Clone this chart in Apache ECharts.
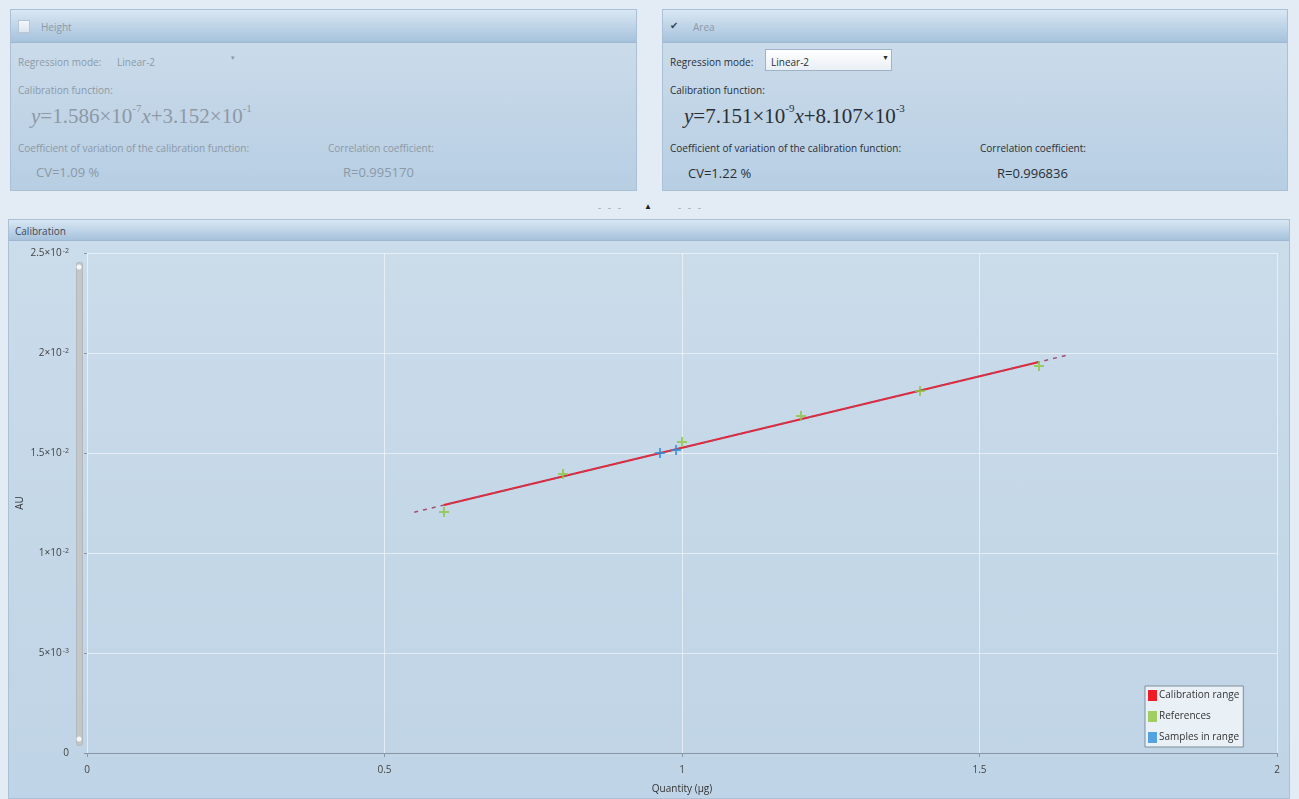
<!DOCTYPE html>
<html>
<head>
<meta charset="utf-8">
<script src="https://cdn.jsdelivr.net/npm/echarts@6/dist/echarts.min.js"></script>
<style>
  body { margin: 0; width: 1299px; height: 799px; background: #e3ecf4; font-family: 'Open Sans', 'Noto Sans', sans-serif; position: relative; overflow: hidden; }
  .panel { position: absolute; border: 1px solid #a9c0d5; background: linear-gradient(#cfdeec, #b7cee3); box-sizing: border-box; }
  .head { height: 32px; background: linear-gradient(#d9e7f3, #a6c2dc); border-bottom: 1px solid #9db8d0; position: relative; font-size: 10px; }
  .head span { position: absolute; top: 10px; }
  .t { position: absolute; font-size: 10px; white-space: nowrap; }
  .f { position: absolute; font-family: 'Liberation Serif', 'DejaVu Serif', serif; font-size: 21px; white-space: nowrap; }
  .f i { font-style: italic; }
  .f sup { font-size: 11px; position: relative; top: -3px; }
  .big { position: absolute; font-size: 13px; white-space: nowrap; }
  .dis { color: #8c99a6; }
  .en { color: #2a2f35; }
  .box { position: absolute; width: 10px; height: 11px; border: 1px solid #b8c6d3; background: linear-gradient(#f4f7fa, #dde6ee); top: 10px; }
  #chart { position: absolute; left: 8px; top: 240px; width: 1282px; height: 559px; }
</style>
</head>
<body>
<div class="panel" style="left:10px;top:9px;width:627px;height:182px;">
  <div class="head"><div class="box" style="left:7px;"></div><span class="dis" style="left:30px;">Height</span></div>
  <div class="t dis" style="left:7px;top:45px;">Regression mode:</div>
  <div class="t dis" style="left:106px;top:45px;">Linear-2</div>
  <div class="t dis" style="left:220px;top:43px;font-size:7px;">&#9662;</div>
  <div class="t dis" style="left:7px;top:73px;">Calibration function:</div>
  <div class="f dis" style="left:20px;top:94px;"><i>y</i>=1.586×10<sup>-7</sup><i>x</i>+3.152×10<sup>-1</sup></div>
  <div class="t dis" style="left:7px;top:131px;">Coefficient of variation of the calibration function:</div>
  <div class="t dis" style="left:317px;top:131px;">Correlation coefficient:</div>
  <div class="big dis" style="left:25px;top:153px;">CV=1.09 %</div>
  <div class="big dis" style="left:332px;top:153px;">R=0.995170</div>
</div>
<div class="panel" style="left:662px;top:9px;width:626px;height:182px;">
  <div class="head"><div class="box" style="left:7px;border:none;background:none;font-size:10px;top:8px;color:#3a4550;">&#10004;</div><span class="dis" style="left:30px;">Area</span></div>
  <div class="t en" style="left:7px;top:45px;">Regression mode:</div>
  <div style="position:absolute;left:102px;top:39px;width:127px;height:22px;border:1px solid #9fb3c6;background:linear-gradient(#ffffff,#e9eff5);box-sizing:border-box;"></div>
  <div class="t en" style="left:108px;top:45px;">Linear-2</div>
  <div class="t en" style="left:219px;top:43px;font-size:7px;">&#9660;</div>
  <div class="t en" style="left:7px;top:73px;">Calibration function:</div>
  <div class="f en" style="left:21px;top:94px;"><i>y</i>=7.151×10<sup>-9</sup><i>x</i>+8.107×10<sup>-3</sup></div>
  <div class="t en" style="left:7px;top:131px;">Coefficient of variation of the calibration function:</div>
  <div class="t en" style="left:317px;top:131px;">Correlation coefficient:</div>
  <div class="big en" style="left:25px;top:154px;">CV=1.22 %</div>
  <div class="big en" style="left:334px;top:154px;">R=0.996836</div>
</div>
<div class="t" style="left:598px;top:200px;color:#9aa8b5;letter-spacing:2px;">- - -</div>
<div class="t" style="left:644px;top:200px;color:#222;font-size:8px;">&#9650;</div>
<div class="t" style="left:678px;top:200px;color:#9aa8b5;letter-spacing:2px;">- - -</div>
<div class="panel" style="left:8px;top:219px;width:1282px;height:580px;background:linear-gradient(#cbdcea,#bfd4e6);">
  <div class="head" style="height:20px;"><span class="en" style="left:6px;top:4px;color:#3c4a58;">Calibration</span></div>
</div>
<div id="chart"></div>
<script>
// x: quantity (µg), y: AU
const refX = [0.6, 0.8, 1.0, 1.2, 1.4, 1.6];
const refY = [0.01205, 0.01395, 0.01555, 0.01685, 0.0181, 0.01935];
const sampleX = [0.963, 0.99];
const sampleY = [0.0150, 0.01515];
const rangeX = [0.6, 1.6];
const rangeY = [0.0124, 0.01955];
const fitX = [0.55, 1.65];
const fitY = [0.01204, 0.01991];
const yTickMant = ['0', '5', '1', '1.5', '2', '2.5'];
const yTickExp = ['', '-3', '-2', '-2', '-2', '-2'];
const xTicks = ['0', '0.5', '1', '1.5', '2'];

const plus = 'path://M4,0 L6,0 L6,4 L10,4 L10,6 L6,6 L6,10 L4,10 L4,6 L0,6 L0,4 L4,4 Z';
const zip = (xs, ys) => xs.map((x, i) => [x, ys[i]]);

const chart = echarts.init(document.getElementById('chart'));
chart.setOption({
  backgroundColor: 'transparent',
  animation: false,
  textStyle: { fontFamily: 'Open Sans' },
  grid: { left: 79, top: 13, width: 1190, height: 500, containLabel: false, outerBoundsMode: 'none' },
  legend: {
    orient: 'vertical',
    left: 1137, top: 446,
    data: ['Calibration range', 'References', 'Samples in range'],
    icon: 'rect', itemWidth: 9, itemHeight: 11, itemGap: 10,
    padding: [4, 4, 4, 3],
    backgroundColor: '#e9f0f6', borderColor: '#7f8e9c', borderWidth: 1,
    textStyle: { fontSize: 10, color: '#333', padding: [0, 0, 0, -3] }
  },
  xAxis: {
    type: 'value', min: 0, max: 2, interval: 0.5,
    name: 'Quantity (µg)', nameLocation: 'middle', nameGap: 31,
    nameTextStyle: { fontSize: 10, color: '#333' },
    axisLine: { lineStyle: { color: '#8797a6' } },
    axisTick: { length: 4, lineStyle: { color: '#8797a6' } },
    axisLabel: { fontSize: 10, color: '#444', margin: 12, formatter: (v, i) => xTicks[i] },
    splitLine: { lineStyle: { color: 'rgba(255,255,255,0.55)' } }
  },
  yAxis: {
    type: 'value', min: 0, max: 0.025, interval: 0.005,
    offset: 14,
    axisLine: { show: false },
    axisTick: { show: true, length: 3, lineStyle: { color: '#8797a6' } },
    axisLabel: {
      margin: 4, color: '#444',
      formatter: (v, i) => yTickExp[i] ? '{m|' + yTickMant[i] + '×10}{e|' + yTickExp[i] + '}' : '{m|' + yTickMant[i] + '}',
      rich: { m: { fontSize: 10, color: '#444' }, e: { fontSize: 7, color: '#444', verticalAlign: 'top', padding: [0, 0, 5, 1] } }
    },
    splitLine: { lineStyle: { color: 'rgba(255,255,255,0.55)' } }
  },
  graphic: [
    // y axis title
    { type: 'text', x: 12, y: 263, rotation: Math.PI / 2, style: { text: 'AU', fontSize: 10, fill: '#333', align: 'center', verticalAlign: 'middle', fontFamily: 'Open Sans' } },
    // vertical scroll bar
    { type: 'rect', left: 68, top: 22, shape: { width: 6, height: 483, r: 2 }, style: { fill: '#c4c7ca', stroke: '#b3b8bd' }, z: 10 },
    { type: 'circle', shape: { cx: 71, cy: 27, r: 2.5 }, style: { fill: '#f4f6f8' }, z: 11 },
    { type: 'circle', shape: { cx: 71, cy: 499, r: 2.5 }, style: { fill: '#f4f6f8' }, z: 11 }
  ],
  series: [
    {
      name: 'Calibration range', type: 'line', data: zip(rangeX, rangeY),
      symbol: 'none', lineStyle: { color: '#ec2030', width: 2 }, itemStyle: { color: '#ee1c25' }, z: 2
    },
    {
      name: 'Regression', type: 'line', data: zip(fitX, fitY),
      symbol: 'none', lineStyle: { color: '#a0506e', width: 1.5, type: [4, 5] }, z: 3
    },
    {
      name: 'References', type: 'scatter', data: zip(refX, refY),
      symbol: plus, symbolSize: 10, itemStyle: { color: '#8dc63f' }, z: 4
    },
    {
      name: 'Samples in range', type: 'scatter', data: zip(sampleX, sampleY),
      symbol: plus, symbolSize: 10, itemStyle: { color: '#2e8fdc' }, z: 5
    }
  ]
});
</script>
</body>
</html>
